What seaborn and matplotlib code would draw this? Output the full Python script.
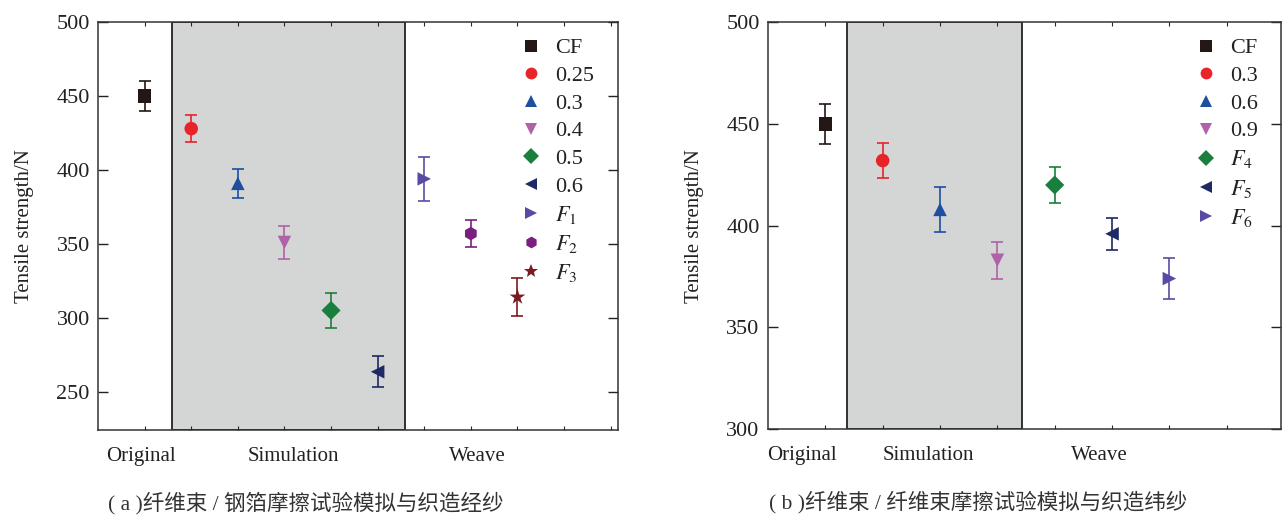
import matplotlib
matplotlib.use("Agg")
import matplotlib.pyplot as plt
import matplotlib.transforms as mtransforms
import pandas as pd
import seaborn as sns

# panel (a): fibre bundle / steel foil
a_labels = ["CF", "0.25", "0.3", "0.4", "0.5", "0.6", "$F_1$", "$F_2$", "$F_3$"]
a_pos = [1, 2, 3, 4, 5, 6, 7, 8, 9]
a_mean = [450, 428, 391, 351, 305, 263.5, 394, 357, 314]
a_err = [10, 9, 10, 11, 12, 10.5, 15, 9, 13]
a_markers = ["s", "o", "^", "v", "D", "<", ">", "h", "*"]
a_colors = ["#231815", "#e8242a", "#1d4fa0", "#b062a8", "#1a7f3c",
            "#1d2a63", "#5b4aa3", "#7a1f7f", "#7b1a20"]

# panel (b): fibre bundle / fibre bundle
b_labels = ["CF", "0.3", "0.6", "0.9", "$F_4$", "$F_5$", "$F_6$"]
b_pos = [1, 2, 3, 4, 5, 6, 7]
b_mean = [450, 432, 408, 383, 420, 396, 374]
b_err = [10, 8.5, 11, 9, 9, 8, 10]
b_markers = ["s", "o", "^", "v", "D", "<", ">"]
b_colors = ["#231815", "#e8242a", "#1d4fa0", "#b062a8", "#1a7f3c",
            "#1d2a63", "#5b4aa3"]

groups = ["Original", "Simulation", "Weave"]

sns.set_theme(style="ticks")
plt.rcParams["font.family"] = ["Liberation Serif", "Noto Sans CJK SC"]
plt.rcParams["mathtext.fontset"] = "stix"


def panel(ax, labels, pos, mean, err, markers, colors, xlim, ylim, yticks,
          shade, group_x, caption, cap_x):
    df = pd.DataFrame({"label": labels, "x": pos, "y": mean})
    ax.axvspan(shade[0], shade[1], facecolor="#d4d6d6", edgecolor="#222222",
               lw=1.3, zorder=0)
    for x, y, e, c in zip(pos, mean, err, colors):
        ax.errorbar(x, y, yerr=e, fmt="none", ecolor=c, elinewidth=1.2,
                    capsize=4, capthick=1.2, zorder=2)
    sizes = {lab: (140 if m == "*" else 95) for lab, m in zip(labels, markers)}
    sns.scatterplot(data=df, x="x", y="y", hue="label", style="label",
                    size="label", sizes=sizes,
                    palette=dict(zip(labels, colors)),
                    markers=dict(zip(labels, markers)),
                    edgecolor="none", linewidth=0, ax=ax, zorder=3)
    ax.set_xlim(*xlim)
    ax.set_ylim(*ylim)
    ax.set_yticks(yticks)
    ax.set_xticks(range(1, int(xlim[1]) + 1))
    ax.set_xticklabels([])
    ax.set_xlabel("")
    ax.set_ylabel("Tensile strength/N", fontsize=15, labelpad=16,
                  color="#222222")
    ax.tick_params(axis="y", direction="in", length=7, width=1, right=True,
                   labelsize=16, colors="#222222", pad=6)
    ax.tick_params(axis="x", direction="in", length=3, width=0.8, top=True)
    for sp in ax.spines.values():
        sp.set_color("#333333")
        sp.set_linewidth(1.1)
    trans = mtransforms.blended_transform_factory(ax.transData, ax.transAxes)
    for gx, g in zip(group_x, groups):
        ax.text(gx, -0.065, g, transform=trans, ha="center", va="center",
                fontsize=15, color="#222222")
    ax.text(cap_x, -0.18, caption, transform=ax.transAxes, ha="center",
            va="center", fontsize=15.5, color="#333333")
    leg = ax.legend(loc="upper right", frameon=False, fontsize=16,
                    handletextpad=0.6, handlelength=1.0, labelspacing=0.32,
                    borderaxespad=0.3, bbox_to_anchor=(0.985, 1.0))
    for h, m in zip(leg.legend_handles, markers):
        h.set_markersize(10 if m == "*" else 8.5)
    for t in leg.get_texts():
        t.set_color("#222222")


fig = plt.figure(figsize=(12.83, 5.17), dpi=100)
ax1 = fig.add_axes([0.0764, 0.168, 0.405, 0.789])
ax2 = fig.add_axes([0.5986, 0.170, 0.400, 0.787])

panel(ax1, a_labels, a_pos, a_mean, a_err, a_markers, a_colors,
      (0, 11.15), (224, 500), [250, 300, 350, 400, 450, 500],
      (1.58, 6.58), [0.93, 4.2, 8.13],
      "( a )纤维束 / 钢箔摩擦试验模拟与织造经纱", 0.40)
panel(ax2, b_labels, b_pos, b_mean, b_err, b_markers, b_colors,
      (0, 8.95), (300, 500), [300, 350, 400, 450, 500],
      (1.38, 4.43), [0.6, 2.8, 5.77],
      "( b )纤维束 / 纤维束摩擦试验模拟与织造纬纱", 0.41)

fig.savefig("out.png", dpi=100)
